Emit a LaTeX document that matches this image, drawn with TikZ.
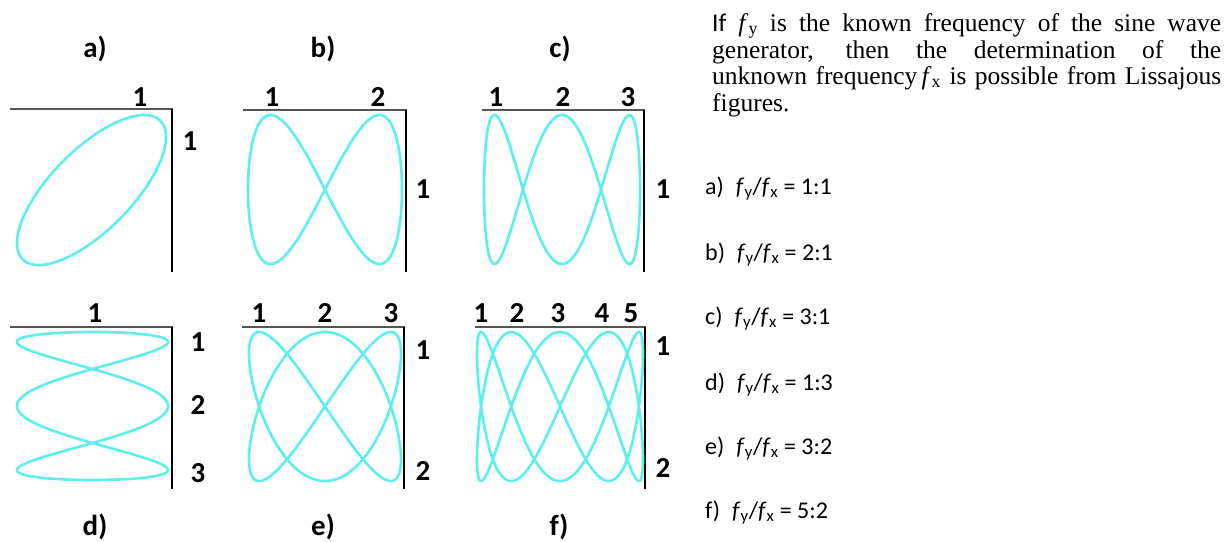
\documentclass[tikz,border=0pt]{standalone}
\usepackage{fontspec}
\setmainfont{Liberation Serif}
\newfontfamily\tnr{Liberation Serif}
\newfontfamily\calib{Carlito}
\definecolor{curvecyan}{RGB}{94,238,238}
\definecolor{axisgray}{RGB}{85,85,85}
\begin{document}
\begin{tikzpicture}[x=1pt,y=-1pt,
  lab/.style={anchor=base,inner sep=0pt,font=\calib\bfseries\fontsize{29}{29}\selectfont},
  ratio/.style={anchor=base west,inner sep=0pt,font=\calib\fontsize{24}{24}\selectfont},
  para/.style={anchor=base west,inner sep=0pt,text width=509pt,align=justify,font=\tnr\fontsize{25.5}{26.7}\selectfont},
  topaxis/.style={draw=axisgray,line width=1.8pt},
  sideaxis/.style={draw=black,line width=1.1pt},
  liss/.style={draw=curvecyan,line width=2.6pt,line join=round}]
\useasboundingbox (0,0) rectangle (1231,541);

% ---- axes ----
\draw[topaxis] (10,109) -- (172.5,109);  \draw[sideaxis] (172,109) -- (172,272);
\draw[topaxis] (243,110) -- (406.5,110); \draw[sideaxis] (406,110) -- (406,272);
\draw[topaxis] (482,110) -- (644.5,110); \draw[sideaxis] (644,110) -- (644,272);
\draw[topaxis] (10,327) -- (172.5,327);  \draw[sideaxis] (172,327) -- (172,489);
\draw[topaxis] (242,327) -- (404.5,327); \draw[sideaxis] (404,327) -- (404,489);
\draw[topaxis] (475,327) -- (645.5,327); \draw[sideaxis] (645,327) -- (645,489);

% ---- Lissajous figures ----
\draw[liss] plot[domain=0:360,samples=361] ({91.5+74.5*sin(\x)},{190-75*sin(\x+45)}) -- cycle;
\draw[liss] plot[domain=0:360,samples=361] ({325+77*sin(\x)},{189.5-74.5*sin(2*\x)}) -- cycle;
\draw[liss] plot[domain=0:360,samples=541] ({562+78*sin(\x)},{189.5-74.5*cos(3*\x)}) -- cycle;
\draw[liss] plot[domain=0:360,samples=541] ({92.5+75.5*cos(3*\x)},{406-74*sin(\x)}) -- cycle;
\draw[liss] plot[domain=0:360,samples=721] ({325+76*sin(2*\x)},{406.5-74.5*cos(3*\x)}) -- cycle;
\draw[liss] plot[domain=0:360,samples=901] ({560+83*sin(2*\x)},{406.5-74.5*cos(5*\x)}) -- cycle;

% ---- panel labels ----
\node[lab] (la) at (95,57) {a)};
\node[lab] (lb) at (323,57) {b)};
\node[lab] (lc) at (560,57) {c)};
\node[lab] (ld) at (95,535) {d)};
\node[lab] (le) at (323,535) {e)};
\node[lab] (lf) at (559,535) {f)};

% ---- counts ----
\node[lab] (a1) at (140,106) {1};
\node[lab] (ar1) at (190,150) {1};
\node[lab] (b1) at (272,106) {1};
\node[lab] (b2) at (378,106) {2};
\node[lab] (br1) at (423,198) {1};
\node[lab] (c1) at (496,106) {1};
\node[lab] (c2) at (563,106) {2};
\node[lab] (c3) at (628,106) {3};
\node[lab] (cr1) at (663,198) {1};
\node[lab] (d1) at (95,322) {1};
\node[lab] (dr1) at (198,351) {1};
\node[lab] (dr2) at (198,414) {2};
\node[lab] (dr3) at (198,482) {3};
\node[lab] (e1) at (259,322) {1};
\node[lab] (e2) at (325,322) {2};
\node[lab] (e3) at (391,322) {3};
\node[lab] (er1) at (423,359) {1};
\node[lab] (er2) at (423,480) {2};
\node[lab] (f1) at (481,322) {1};
\node[lab] (f2) at (517,322) {2};
\node[lab] (f3) at (558,322) {3};
\node[lab] (f4) at (602,322) {4};
\node[lab] (f5) at (631,322) {5};
\node[lab] (fr1) at (663,355) {1};
\node[lab] (fr2) at (663,477) {2};

% ---- explanatory text ----
\node[para] (p1) at (712,31) {\parfillskip=0pt {\calib If} \textit{f}\textsubscript{y} is the known frequency of the sine wave\par};
\node[para] (p2) at (712,58) {\parfillskip=0pt generator, then the determination of the\par};
\node[para] (p3) at (712,84) {\parfillskip=0pt unknown frequency\,\textit{f}\textsubscript{x} is possible from Lissajous\par};
\node[para] (p4) at (712,111) {figures.};

% ---- ratios ----
\node[ratio] (ra) at (705,194) {a)\hspace{0.5em}\textit{f}\textsubscript{y}/\textit{f}\textsubscript{x} = 1:1};
\node[ratio] (rb) at (705,260) {b)\hspace{0.5em}\textit{f}\textsubscript{y}/\textit{f}\textsubscript{x} = 2:1};
\node[ratio] (rc) at (705,324) {c)\hspace{0.5em}\textit{f}\textsubscript{y}/\textit{f}\textsubscript{x} = 3:1};
\node[ratio] (rd) at (705,390) {d)\hspace{0.5em}\textit{f}\textsubscript{y}/\textit{f}\textsubscript{x} = 1:3};
\node[ratio] (re) at (705,454) {e)\hspace{0.5em}\textit{f}\textsubscript{y}/\textit{f}\textsubscript{x} = 3:2};
\node[ratio] (rf) at (705,518) {f)\hspace{0.5em}\textit{f}\textsubscript{y}/\textit{f}\textsubscript{x} = 5:2};
\end{tikzpicture}
\end{document}
